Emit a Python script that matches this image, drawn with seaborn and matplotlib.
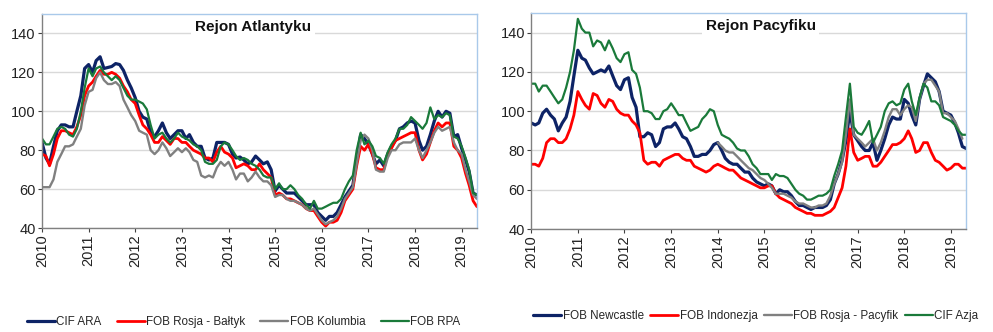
import numpy as np
import pandas as pd
import matplotlib
matplotlib.use("Agg")
import matplotlib.pyplot as plt
import seaborn as sns

# Monthly coal prices, USD/t, January 2010 - May 2019
months = pd.date_range("2010-01-01", periods=113, freq="MS")
years = list(range(2010, 2020))

# --- Atlantic region ---
cif_ara = [
    84, 76, 73, 82, 90, 93, 93, 92, 92, 100, 108, 122,
    124, 120, 126, 128, 122, 122.5, 123, 124.5, 124, 121, 116, 112,
    107, 100, 97, 96, 89, 87, 90, 94, 89, 86, 88, 90,
    90, 86, 88, 84, 82, 82, 76, 75, 76, 84, 84, 84,
    83, 78, 76, 76.5, 75, 73, 74, 77, 75, 73, 74, 70,
    59, 62, 60, 58, 58, 58, 56, 54, 52, 52, 52, 48,
    46, 44, 46, 46, 48, 52, 56, 59, 62, 75, 88, 86,
    83, 78, 73, 75, 72, 78, 82, 85, 91, 92, 94, 95,
    94, 85, 80, 82, 88, 95, 100, 97, 100, 99, 87, 88,
    81, 75, 69, 58, 57,
]
fob_rosja_baltyk = [
    78, 77, 72, 78, 86, 90, 90, 89, 88, 92, 98, 108,
    113, 115, 118, 121, 119, 119, 120, 119, 117, 113, 110, 106,
    104, 98, 93, 91, 88, 84, 84, 87, 85, 83, 86, 86,
    84, 84, 82, 80, 79, 78, 76, 76, 74, 79, 82, 79,
    78, 76, 71, 72, 73, 72, 70, 70, 73, 70, 68, 66,
    57, 58, 57, 55, 55, 54, 53, 52, 50, 49, 49, 46,
    43, 41, 43, 43, 44, 48, 54, 57, 60, 72, 82, 80,
    83, 78, 71, 70, 70, 78, 81, 85, 86, 87, 88, 89,
    89, 80, 75, 78, 84, 90, 94, 92, 94, 94, 82, 80,
    76, 68, 62, 54, 51,
]
fob_kolumbia = [
    61, 61, 61, 65, 74, 78, 82, 82, 83, 87, 91, 103,
    110, 111, 117, 120, 116, 114, 114, 115, 113, 106, 102, 98,
    95, 90, 89, 88, 80, 78, 80, 84, 81, 77, 79, 81,
    79, 81, 79, 75, 74, 67, 66, 67, 66, 71, 74, 72,
    74, 70, 65, 68, 68, 64, 66, 69, 66, 64, 64, 62,
    56, 57, 57, 55, 54, 54, 53, 52, 50, 49, 50, 47,
    44, 42, 43, 44, 46, 50, 55, 58, 61, 73, 85, 88,
    86, 80, 70, 69, 69, 76, 80, 80, 83, 84, 84, 84,
    86, 80, 76, 80, 84, 89, 92, 90, 91, 92, 84, 80,
    78, 70, 64, 57, 55,
]
fob_rpa = [
    86, 83, 83, 87, 91, 92, 91, 88, 87, 91, 100, 112,
    122, 118, 122, 123, 120, 118, 116, 118, 116, 112, 108, 106,
    106, 105, 104, 101, 93, 86, 88, 89, 86, 84, 86, 89,
    87, 86, 85, 83, 82, 80, 74, 73, 73, 75, 82, 84,
    83, 80, 77, 75, 76, 75, 73, 72, 70, 67, 66, 66,
    60, 63, 60, 60, 62, 60, 57, 55, 52, 50, 54, 50,
    50, 51, 52, 53, 53, 55, 60, 64, 67, 80, 89, 83,
    85, 82, 77, 76, 73, 79, 83, 86, 91, 91, 93, 97,
    95, 93, 91, 94, 102, 96, 98, 97, 99, 98, 87, 86,
    82, 76, 70, 58, 57,
]

# --- Pacific region ---
fob_newcastle = [
    94, 93, 94, 99, 101, 98, 96, 90, 94, 97, 105, 118,
    131, 127, 126, 122, 119, 120, 121, 120, 123, 118, 113, 111,
    116, 117, 107, 102, 87, 87, 89, 88, 82, 84, 91, 92,
    92, 94, 91, 87, 86, 82, 77, 77, 78, 78, 80, 83,
    84, 80, 76, 74, 73, 73, 71, 69, 69, 66, 64, 63,
    62, 63, 62, 58, 60, 59, 59, 57, 54, 52, 52, 51,
    50, 51, 51, 51, 52, 55, 63, 68, 75, 85, 100, 88,
    85, 82, 80, 80, 84, 75, 80, 86, 93, 97, 96, 96,
    106, 104, 98, 93, 106, 113, 119, 117, 115, 110, 100, 99,
    98, 94, 89, 82, 81,
]
fob_indonezja = [
    73, 73, 72, 76, 84, 86, 86, 84, 84, 86, 91, 98,
    110, 106, 103, 101, 109, 108, 104, 102, 106, 105, 101, 99,
    98, 98, 95, 93, 89, 75, 73, 74, 74, 72, 75, 76,
    77, 78, 78, 76, 75, 75, 72, 71, 70, 69, 70, 72,
    73, 72, 71, 70, 70, 68, 66, 65, 64, 63, 62, 61,
    61, 62, 62, 58, 56, 55, 54, 53, 51, 50, 49, 48,
    48, 47, 47, 47, 48, 49, 51, 56, 61, 72, 91, 79,
    75, 76, 77, 77, 72, 72, 74, 77, 80, 83, 83, 84,
    86, 90, 86, 79, 80, 84, 84, 79, 75, 74, 72, 70,
    71, 73, 73, 71, 71,
]
nan = np.nan
fob_rosja_pacyfik = [nan] * 48 + [
    84, 82, 80, 79, 79, 77, 75, 73, 71, 70, 68, 66,
    65, 63, 61, 58, 58, 58, 57, 56, 54, 53, 53, 52,
    51, 51, 52, 52, 53, 57, 63, 68, 74, 88, 106, 88,
    86, 84, 82, 84, 86, 80, 84, 90, 97, 101, 101, 98,
    101, 103, 102, 95, 106, 114, 116, 116, 113, 110, 99, 99,
    97, 95, 91, 86, nan,
]
cif_azja = [
    114, 114, 110, 113, 113, 110, 107, 104, 106, 112, 120, 131,
    147, 142, 140, 140, 133, 136, 135, 131, 136, 132, 127, 125,
    129, 130, 121, 119, 112, 100, 100, 99, 96, 96, 100, 101,
    104, 101, 98, 98, 94, 90, 91, 92, 96, 98, 101, 100,
    93, 88, 87, 86, 84, 81, 80, 80, 77, 73, 71, 68,
    68, 68, 65, 68, 67, 67, 66, 63, 60, 58, 57, 55,
    55, 56, 57, 57, 58, 60, 67, 73, 80, 97, 114, 92,
    89, 88, 91, 95, 84, 88, 92, 100, 104, 105, 103, 104,
    111, 114, 105, 98, 107, 114, 112, 105, 105, 103, 97, 96,
    95, 93, 90, 88, 88,
]

NAVY, RED, GREY, GREEN = "#0d2366", "#ff0000", "#808080", "#1a7a3a"

panels = [
    ("Rejon Atlantyku", [
        ("CIF ARA", cif_ara, NAVY, 2.3),
        ("FOB Rosja - Bałtyk", fob_rosja_baltyk, RED, 2.0),
        ("FOB Kolumbia", fob_kolumbia, GREY, 1.7),
        ("FOB RPA", fob_rpa, GREEN, 1.6),
    ]),
    ("Rejon Pacyfiku", [
        ("FOB Newcastle", fob_newcastle, NAVY, 2.3),
        ("FOB Indonezja", fob_indonezja, RED, 2.0),
        ("FOB Rosja - Pacyfik", fob_rosja_pacyfik, GREY, 1.7),
        ("CIF Azja", cif_azja, GREEN, 1.6),
    ]),
]

sns.set_theme(style="white")
plt.rcParams["font.family"] = ["Liberation Sans", "DejaVu Sans"]

fig = plt.figure(figsize=(9.93, 3.32), dpi=100)
axes_rects = [
    [0.0423, 0.313, 0.438, 0.645],
    [0.535, 0.310, 0.438, 0.651],
]
title_x = [0.485, 0.528]
legend_anchor = [(0.027, 0.012), (0.537, 0.030)]
legend_colspace = [1.3, 0.55]

for (title, series), rect, tx, anchor, csp in zip(panels, axes_rects, title_x,
                                                   legend_anchor, legend_colspace):
    ax = fig.add_axes(rect)
    for name, vals, color, lw in series:
        df = pd.DataFrame({"date": months, "value": vals})
        sns.lineplot(data=df, x="date", y="value", ax=ax, color=color,
                     linewidth=lw, label=name, legend=False)
    ax.set_xlim(months[0], months[-1])
    ax.set_ylim(40, 150)
    ax.set_yticks([40, 60, 80, 100, 120, 140])
    ax.set_xticks([pd.Timestamp(f"{y}-01-01") for y in years])
    ax.set_xticklabels([str(y) for y in years], rotation=90)
    ax.set_xlabel("")
    ax.set_ylabel("")
    ax.tick_params(axis="both", which="both", direction="out", length=3,
                   width=0.8, color="#404040", labelsize=10.5, pad=1.5,
                   bottom=True, left=True, labelcolor="#222222")
    ax.grid(axis="y", color="#d9d9d9", linewidth=1.0)
    ax.set_axisbelow(True)
    for side in ("left", "bottom"):
        ax.spines[side].set_color("#808080")
        ax.spines[side].set_linewidth(1.0)
    for side in ("top", "right"):
        ax.spines[side].set_color("#a9c9ea")
        ax.spines[side].set_linewidth(1.0)
    ax.text(tx, 0.94, title, transform=ax.transAxes, ha="center", va="center",
            fontsize=11, fontweight="bold", color="#111111",
            bbox=dict(facecolor="white", edgecolor="none", pad=2.5))
    handles, labels = ax.get_legend_handles_labels()
    fig.legend(handles, labels, loc="lower left", bbox_to_anchor=anchor,
               ncol=4, frameon=False, fontsize=8.4, handlelength=2.4,
               handletextpad=0.12, columnspacing=csp, borderaxespad=0,
               borderpad=0)

fig.savefig("out.png", dpi=100, facecolor="white")
